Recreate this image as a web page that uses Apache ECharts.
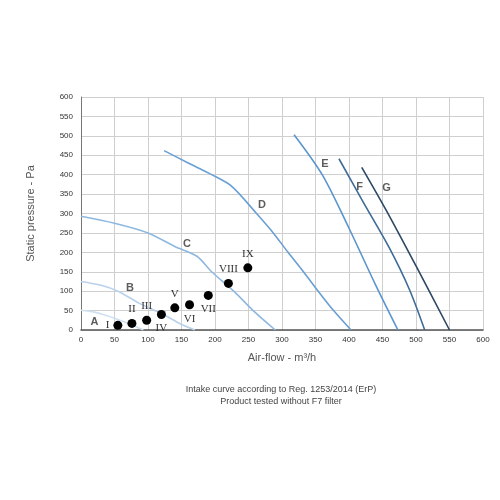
<!DOCTYPE html>
<html>
<head>
<meta charset="utf-8">
<script src="https://cdn.jsdelivr.net/npm/echarts@6/dist/echarts.min.js"></script>
<style>
  html, body { margin: 0; padding: 0; background: #fff; }
  #chart { width: 500px; height: 500px; }
</style>
</head>
<body>
<div id="chart"></div>
<script>
// fan curves, [air-flow m3/h, static pressure Pa]
const curveA = [[0, 51], [20, 46], [40, 36], [60, 24], [75, 14], [93, 0]]
const curveB = [[0, 125], [30, 115], [55, 100], [88, 68], [123, 40], [148, 16], [170, 0]]
const curveC = [[0, 293], [50, 275], [100, 250], [140, 215], [173, 190], [195, 150], [228, 100], [257, 50], [290, 0]]
const curveD = [[124, 462], [160, 430], [195, 400], [225, 370], [262, 300], [287, 250], [309, 200], [332, 150], [354, 100], [377, 50], [403, 0]]
const curveE = [[318, 503], [360, 400], [400, 262], [440, 115], [473, 0]]
const curveF = [[385, 441], [421, 330], [460, 212], [490, 105], [513, 0]]
const curveG = [[419, 419], [455, 310], [500, 165], [550, 0]]

const curveNames = ['A', 'B', 'C', 'D', 'E', 'F', 'G']
const curveColors = ['#cfe0f1', '#b9d1ea', '#8fb8e0', '#6a9fd4', '#5b95ce', '#3e6b98', '#2c4866']
// where the letter of each curve sits
const curveLabels = [[20, 20], [73, 109], [158, 222], [270, 322], [364, 428], [416, 369], [456, 366]]

// working points
const pointNames = ['I', 'II', 'III', 'IV', 'V', 'VI', 'VII', 'VIII', 'IX']
const pointValues = [[55, 12], [76, 17], [98, 25], [120, 40], [140, 57], [162, 65], [190, 89], [220, 120], [249, 160]]
const pointLabelPos = ['left', 'top', 'top', 'bottom', 'top', 'bottom', 'bottom', 'top', 'top']

const xTicks = [0, 50, 100, 150, 200, 250, 300, 350, 400, 450, 500, 550, 600]
const yTicks = [0, 50, 100, 150, 200, 250, 300, 350, 400, 450, 500, 550, 600]

const chart = echarts.init(document.getElementById('chart'))

const curves = [curveA, curveB, curveC, curveD, curveE, curveF, curveG]
const series = curves.map((c, i) => ({
  type: 'line',
  name: curveNames[i],
  data: c,
  smooth: 0.3,
  showSymbol: false,
  lineStyle: { color: curveColors[i], width: 1.6 },
  silent: true,
  z: 3
}))

series.push({
  type: 'scatter',
  data: curveLabels.map((p, i) => ({ value: p, name: curveNames[i] })),
  symbolSize: 0,
  label: {
    show: true,
    position: 'inside',
    formatter: '{b}',
    fontFamily: 'Liberation Sans',
    fontWeight: 'bold',
    fontSize: 11,
    color: '#333'
  },
  silent: true,
  z: 4
})

series.push({
  type: 'scatter',
  data: pointValues.map((p, i) => ({
    value: p,
    name: pointNames[i],
    label: { position: pointLabelPos[i] }
  })),
  symbol: 'circle',
  symbolSize: 9,
  itemStyle: { color: '#000', opacity: 1 },
  label: {
    show: true,
    formatter: '{b}',
    fontFamily: 'Liberation Serif',
    fontSize: 11,
    color: '#333',
    distance: 4
  },
  z: 5
})

chart.setOption({
  animation: false,
  grid: { left: 81, right: 17, top: 97, bottom: 170 },
  xAxis: {
    type: 'value',
    min: 0,
    max: 600,
    interval: 50,
    name: 'Air-flow - m³/h',
    nameLocation: 'middle',
    nameGap: 22,
    nameTextStyle: { fontFamily: 'Liberation Sans', fontSize: 11, color: '#555' },
    axisLine: { show: true, lineStyle: { color: '#555', width: 1.5 } },
    axisTick: { show: false },
    axisLabel: {
      fontFamily: 'Liberation Sans', fontSize: 8, color: '#333', margin: 6,
      formatter: v => xTicks.includes(v) ? String(v) : ''
    },
    splitLine: { show: true, lineStyle: { color: '#cfcfcf', width: 1 } }
  },
  yAxis: {
    type: 'value',
    min: 0,
    max: 600,
    interval: 50,
    name: 'Static pressure - Pa',
    nameLocation: 'middle',
    nameRotate: 90,
    nameGap: 45,
    nameTextStyle: { fontFamily: 'Liberation Sans', fontSize: 11, color: '#555' },
    axisLine: { show: true, lineStyle: { color: '#777', width: 1 } },
    axisTick: { show: false },
    axisLabel: {
      fontFamily: 'Liberation Sans', fontSize: 8, color: '#333', margin: 8,
      formatter: v => yTicks.includes(v) ? String(v) : ''
    },
    splitLine: { show: true, lineStyle: { color: '#cfcfcf', width: 1 } }
  },
  graphic: [
    {
      type: 'text',
      x: 281,
      y: 384,
      style: {
        text: 'Intake curve according to Reg. 1253/2014 (ErP)\nProduct tested without F7 filter',
        fontFamily: 'Liberation Sans',
        fontSize: 9,
        lineHeight: 12,
        fill: '#444',
        textAlign: 'center',
        align: 'center'
      }
    }
  ],
  series: series
})
</script>
</body>
</html>
